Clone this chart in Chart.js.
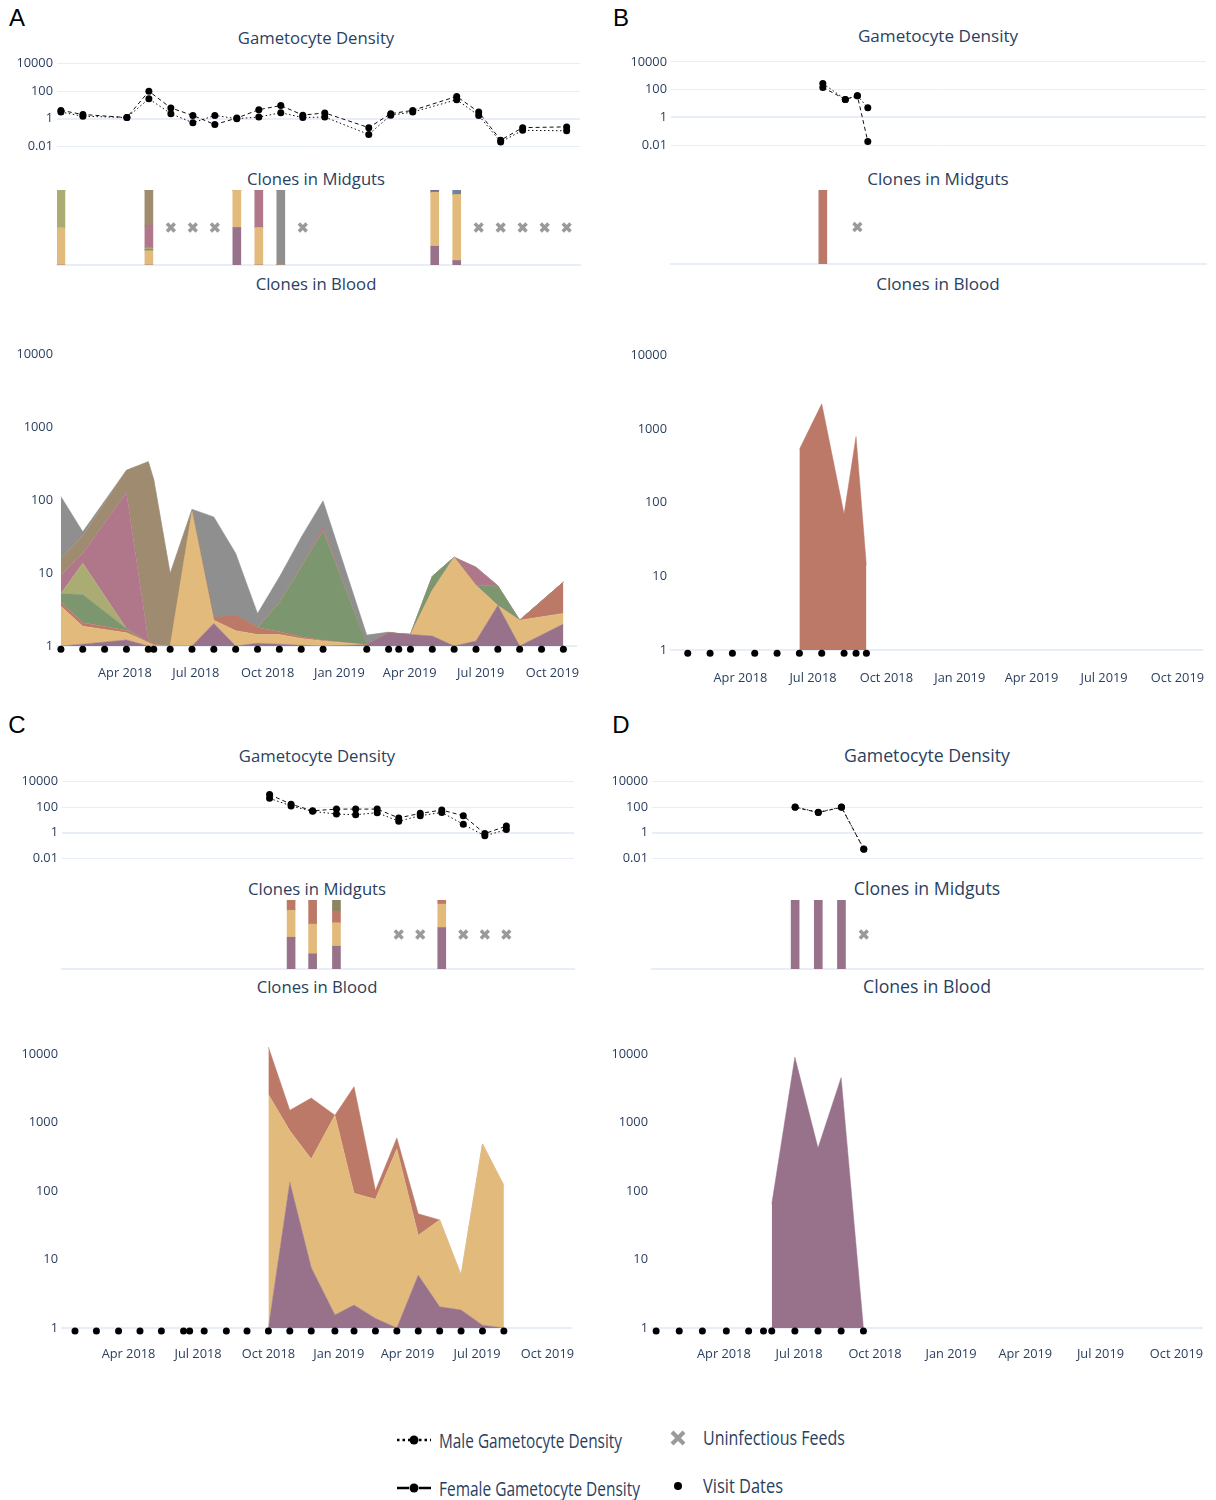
<!DOCTYPE html>
<html>
<head>
<meta charset="utf-8">
<script src="https://cdn.jsdelivr.net/npm/chart.js@4.4.0/dist/chart.umd.min.js"></script>
<style>
  body { margin: 0; width: 1216px; height: 1500px; position: relative; background: #fff; overflow: hidden; font-family: "Open Sans", sans-serif; }
  canvas { position: absolute; }
  .ttl { position: absolute; transform: translate(-50%, -50%); color: #2a3f5f; line-height: 1; white-space: nowrap; }
  .letter { position: absolute; transform: translate(-50%, -50%); font-family: "Liberation Sans", sans-serif; font-size: 24px; line-height: 1; color: #000; }
  .leg { position: absolute; transform-origin: 0 50%; font-family: "Open Sans", sans-serif; font-size: 19.5px; line-height: 1; color: #2a3f5f; white-space: nowrap; }
</style>
</head>
<body>
<svg style="position:absolute;left:380px;top:1420px" width="340" height="85">
  <line x1="17" y1="20" x2="51" y2="20" stroke="#000" stroke-width="2.5" stroke-dasharray="2.5,3"/>
  <circle cx="34" cy="20" r="4.5" fill="#000"/>
  <line x1="17" y1="68" x2="29" y2="68" stroke="#000" stroke-width="2.5"/>
  <line x1="39" y1="68" x2="51" y2="68" stroke="#000" stroke-width="2.5"/>
  <circle cx="34" cy="68" r="4.5" fill="#000"/>
  <line x1="292" y1="12" x2="304" y2="24" stroke="#9a9a9a" stroke-width="4"/>
  <line x1="304" y1="12" x2="292" y2="24" stroke="#9a9a9a" stroke-width="4"/>
  <circle cx="298" cy="66" r="4" fill="#000"/>
</svg>
<script>
// x axis: days since 1 Jan 2018
const tickDays = [90, 181, 273, 365, 455, 546, 638];
const tickNames = ['Apr 2018', 'Jul 2018', 'Oct 2018', 'Jan 2019', 'Apr 2019', 'Jul 2019', 'Oct 2019'];
const gameTicks = [0.01, 0.1, 1, 10, 100, 1000, 10000];
const gameLabels = [0.01, 1, 100, 10000];
const bloodTicks = [1, 10, 100, 1000, 10000];

// ---- panel A ----
const aVisits = [8, 36, 64, 92, 120, 127, 148, 176, 204, 232, 260, 288, 316, 344, 400, 428, 441, 456, 484, 512, 540, 568, 596, 624, 652];
const aGameDays = [8, 36, 92, 120, 148, 176, 204, 232, 260, 288, 316, 344, 400, 428, 456, 512, 540, 568, 596, 652];
const aMale = [3, 1.5, 1.2, 28, 2.3, 0.5, 1.7, 1, 1.3, 2.7, 1.2, 1.3, 0.07, 1.8, 3, 24, 1.7, 0.02, 0.14, 0.13];
const aFemale = [4, 2, 1.2, 100, 6, 1.7, 0.37, 1.1, 4.5, 9, 1.8, 2.6, 0.22, 2.3, 4, 42, 3, 0.027, 0.22, 0.25];
const aGutDays = [8, 120, 232, 260, 288, 484, 512];
const aGutPurple = [0, 0, 0.5, 0, 0, 0.25, 0.06];
const aGutYellow = [0.5, 0.19, 0.5, 0.5, 0, 0.72, 0.88];
const aGutGreen = [0, 0.02, 0, 0, 0, 0, 0];
const aGutOlive = [0.5, 0.02, 0, 0, 0, 0, 0];
const aGutPink = [0, 0.3, 0, 0.5, 0, 0, 0];
const aGutBrown = [0, 0.47, 0, 0, 0, 0, 0];
const aGutGrey = [0, 0, 0, 0, 1, 0, 0];
const aGutViolet = [0, 0, 0, 0, 0, 0.03, 0];
const aGutSlate = [0, 0, 0, 0, 0, 0, 0.06];
const aUninf = [148, 176, 204, 316, 540, 568, 596, 624, 652];
const aBloodDays = [8, 36, 92, 120, 127, 148, 176, 204, 232, 260, 288, 316, 344, 400, 428, 441, 456, 484, 512, 540, 568, 596, 652];
const aBloodPurple = [0, 1.06, 1.21, 1.0, 0, 0, 0, 2.04, 0, 1.09, 1.06, 1.02, 1.0, 1.04, 1.52, 1.48, 1.44, 1.37, 0, 1.17, 3.6, 0, 2.0];
const aBloodYellow = [3.5, 0.81, 0.31, 0.12, 1.03, 1.0, 70, 0.22, 1.62, 0.35, 0.38, 0.25, 0.17, 0, 0, 0, 0, 4.43, 16.5, 5.63, 0, 2.26, 0.8];
const aBloodRed = [0.5, 0.21, 0.13, 0, 0, 0, 0, 0.17, 1.03, 0.36, 0.13, 0.07, 0.03, 0, 0, 0, 0, 0, 0, 0, 0, 0, 4.7];
const aBloodGreen = [1.2, 3.0, 0.09, 0, 0, 0, 0, 0, 0, 0, 2.33, 10.7, 36.8, 0, 0, 0, 0, 3.2, 0, 0, 3.0, 0, 0];
const aBloodOlive = [0, 8.6, 0, 0, 0, 0, 0, 0, 0, 0, 0, 0, 0, 0, 0, 0, 0, 0, 0, 0, 0, 0, 0];
const aBloodPink = [4.1, 5.0, 125, 0.08, 0.02, 0, 0, 0, 0, 0.05, 0.1, 0.5, 5, 0, 0, 0, 0, 0, 0, 5.2, 0.1, 0, 0];
const aBloodBrown = [6.7, 13.9, 130, 335, 189, 8.8, 3, 0, 0, 0, 0, 0, 0, 0, 0, 0, 0, 0, 0, 0, 0, 0, 0];
const aBloodGrey = [96, 4.4, 0, 0, 0, 0, 2, 56.5, 16, 0.95, 4.8, 18.5, 55, 0.37, 0.03, 0, 0, 0, 0, 0, 0, 0, 0];

// ---- panel B ----
const bVisits = [24, 52, 80, 108, 136, 164, 192, 220, 235, 248];
const bGameDays = [192, 220, 235, 248];
const bMale = [275, 19.6, 36, 4.9];
const bFemale = [142, 19.6, 36, 0.018];
const bGutDays = [192];
const bGutRed = [1];
const bUninf = [235];
const bBloodDays = [164, 192, 220, 235, 248];
const bBloodRed = [530, 2200, 70, 790, 14];

// ---- panel C ----
const cVisits = [20, 48, 77, 105, 133, 162, 170, 189, 218, 245, 273, 301, 329, 360, 385, 413, 441, 469, 497, 525, 553, 581];
const cGameDays = [273, 301, 329, 360, 385, 413, 441, 469, 497, 525, 553, 581];
const cMale = [480, 123, 46, 28, 25, 36, 7.8, 21, 38, 4.4, 0.55, 1.7];
const cFemale = [960, 166, 51, 69, 69, 69, 14, 32, 58, 21, 0.83, 3.2];
const cGutDays = [301, 329, 360, 497];
const cGutPurple = [0.46, 0.22, 0.33, 0.6];
const cGutYellow = [0.39, 0.43, 0.34, 0.34];
const cGutRed = [0.15, 0.35, 0.17, 0.06];
const cGutDarkOlive = [0, 0, 0.16, 0];
const cUninf = [441, 469, 525, 553, 581];
const cBloodDays = [273, 301, 329, 360, 385, 413, 441, 469, 497, 525, 553, 581];
const cBloodPurple = [0, 135, 7.6, 1.55, 2.16, 1.38, 0, 5.9, 2.04, 1.83, 1.1, 1.0];
const cBloodYellow = [2600, 630, 287, 1288, 91, 75, 415, 16.7, 36, 4.1, 489, 120];
const cBloodRed = [10200, 755, 2000, 0, 3280, 26, 185, 24, 0, 0, 0, 0];

// ---- panel D ----
const dVisits = [8, 36, 64, 93, 120, 138, 148, 176, 204, 232, 259];
const dGameDays = [176, 204, 232, 259];
const dMale = [100, 39, 100, 0.052];
const dFemale = [95, 37, 95, 0.05];
const dGutDays = [176, 204, 232];
const dGutPurple = [1, 1, 1];
const dUninf = [259];
const dBloodDays = [148, 176, 204, 232, 259];
const dBloodPurple = [65, 9100, 427, 4570, 0];

const COLORS = {
  purple: '#98728a', yellow: '#e2bb7c', red: '#bd7968', green: '#7c976f',
  olive: '#abac73', pink: '#b0778b', brown: '#9e8b70', grey: '#8f8f8f',
  slate: '#6c84a2', violet: '#7c6a8c', darkOlive: '#8a8660'
};
const TXT = '#2a3f5f';
const GRID = '#e8eef7';
const FONT = '"Open Sans", sans-serif';
const TICK_SIZE = 12.8;
const X_MIN = 3, X_MAX = 669;

const LAYOUT = {
  A: { left: 57, right: 580, g10k: 63, g001: 146, mTop: 190, mBot: 265, b10k: 353, b1: 646, pad: 20, cx: 316, tG: 38, tM: 179, tB: 284, fs: 16.7 },
  B: { left: 671, right: 1206, g10k: 61, g001: 145, mTop: 190, mBot: 264, b10k: 354, b1: 650, pad: 21, cx: 938, tG: 36, tM: 179, tB: 284, fs: 17.1 },
  C: { left: 62, right: 574, g10k: 780, g001: 858, mTop: 900, mBot: 969, b10k: 1053, b1: 1328, pad: 19, cx: 317, tG: 756, tM: 889, tB: 987, fs: 16.7 },
  D: { left: 652, right: 1203, g10k: 780, g001: 858, mTop: 900, mBot: 969, b10k: 1053, b1: 1328, pad: 19, cx: 927, tG: 756, tM: 889, tB: 987, fs: 17.7 }
};

function addText(txt, x, y, cls, size) {
  const d = document.createElement('div');
  d.className = cls;
  d.textContent = txt;
  d.style.left = x + 'px';
  d.style.top = y + 'px';
  if (size) d.style.fontSize = size + 'px';
  document.body.appendChild(d);
  return d;
}

// legend text is condensed in the reference: squeeze each label to its measured width
function addLegendText(txt, x, cy, width) {
  const d = addText(txt, x, 0, 'leg');
  const r = d.getBoundingClientRect();
  d.style.top = (cy - r.height / 2) + 'px';
  d.style.transform = 'scaleX(' + (width / r.width) + ')';
}

function baseOptions(scales) {
  return {
    responsive: false, animation: false, devicePixelRatio: 1,
    plugins: { legend: { display: false }, tooltip: { enabled: false } },
    scales: scales
  };
}

// canvas placed so the chart area lands exactly on [p.left, p.right] x [top, bottom]
function mount(p, top, bottom, xh, cfg) {
  const ct = Math.floor(top - 10);
  const h = Math.ceil(bottom + xh + 4) - ct;
  const c = document.createElement('canvas');
  c.width = p.right - p.left + 80;
  c.height = h;
  c.style.left = (p.left - 60) + 'px';
  c.style.top = ct + 'px';
  document.body.appendChild(c);
  cfg.options.layout = { padding: { left: 0, right: 20, top: top - ct, bottom: h - (bottom - ct) - xh } };
  cfg.options.scales.x.afterFit = s => { s.height = xh; };
  cfg.options.scales.y.afterFit = s => { s.width = 60; };
  return new Chart(c, cfg);
}

function xScale(showTicks, pad, border) {
  return {
    type: 'linear', min: X_MIN, max: X_MAX, offset: false,
    grid: { display: false, drawTicks: false },
    border: { display: border, color: GRID, width: 2 },
    afterBuildTicks: s => { s.ticks = tickDays.map(v => ({ value: v })); },
    ticks: {
      display: showTicks, padding: pad, autoSkip: false, maxRotation: 0, minRotation: 0,
      color: TXT, font: { family: FONT, size: TICK_SIZE },
      callback: v => tickNames[tickDays.indexOf(v)]
    }
  };
}

function gametoChart(p, days, male, female) {
  const ppd = (p.g001 - p.g10k) / 6;
  const top = p.g10k - Math.log10(2) * ppd;
  const bottom = p.g001 + Math.log10(2) * ppd;
  const line = (vals, dash) => ({
    data: days.map((d, i) => ({ x: d, y: vals[i] })),
    borderColor: '#111', borderWidth: 1, borderDash: dash,
    pointRadius: 3.5, pointBackgroundColor: '#000', pointBorderWidth: 0,
    tension: 0, clip: false, fill: false
  });
  return mount(p, top, bottom, 10, {
    type: 'line',
    data: { datasets: [line(male, [1.5, 2.5]), line(female, [4, 3])] },
    options: baseOptions({
      x: xScale(false, 0, false),
      y: {
        type: 'logarithmic', min: 0.005, max: 20000,
        afterBuildTicks: s => { s.ticks = gameTicks.map(v => ({ value: v })); },
        grid: { color: GRID, drawTicks: false, lineWidth: c => (c.tick && c.tick.value === 1 ? 2 : 1) },
        border: { display: false },
        ticks: {
          padding: 4, color: TXT, font: { family: FONT, size: TICK_SIZE },
          callback: v => (gameLabels.includes(v) ? String(v) : '')
        }
      }
    })
  });
}

function gutChart(p, days, series, uninf) {
  const datasets = series.map(([name, vals]) => ({
    type: 'bar',
    data: days.map((d, i) => ({ x: d, y: vals[i] })),
    backgroundColor: COLORS[name], borderWidth: 0, barThickness: 8, stack: 'gut'
  }));
  datasets.push({
    type: 'line',
    data: uninf.map(d => ({ x: d, y: 0.5 })),
    showLine: false, pointStyle: 'crossRot', pointRadius: 5.5,
    pointBorderWidth: 3.5, pointBorderColor: '#9a9a9a', stack: 'uninf', clip: false
  });
  const xs = xScale(false, 0, true);
  xs.stacked = true;
  return mount(p, p.mTop, p.mBot, 10, {
    type: 'bar',
    data: { datasets },
    options: baseOptions({
      x: xs,
      y: { min: 0, max: 1, stacked: true, grid: { display: false }, border: { display: false }, ticks: { display: false } }
    })
  });
}

// running totals of the clone densities; a log axis cannot show 0, so totals sit on the axis floor (1)
function stackUp(series) {
  const run = series[0][1].map(() => 0);
  return series.map(([name, vals]) => [name, vals.map((v, j) => Math.max((run[j] += v), 1))]);
}

function bloodChart(p, visits, days, series) {
  const ppd = (p.b1 - p.b10k) / 4;
  const top = p.b10k - 0.2 * ppd;
  const datasets = [{
    data: visits.map(d => ({ x: d, y: 0.905 })),
    showLine: false, pointRadius: 3.5, pointBackgroundColor: '#000', pointBorderWidth: 0,
    clip: false, fill: false
  }];
  stackUp(series).forEach(([name, tops], i) => {
    datasets.push({
      data: days.map((d, j) => ({ x: d, y: tops[j] })),
      borderColor: COLORS[name], backgroundColor: COLORS[name], borderWidth: 0.5,
      pointRadius: 0, tension: 0, fill: i === 0 ? 'start' : '-1'
    });
  });
  return mount(p, top, p.b1, 40, {
    type: 'line',
    data: { datasets },
    options: baseOptions({
      x: xScale(true, p.pad, true),
      y: {
        type: 'logarithmic', min: 1, max: Math.pow(10, 4.2),
        afterBuildTicks: s => { s.ticks = bloodTicks.map(v => ({ value: v })); },
        grid: { display: false, drawTicks: false },
        border: { display: false },
        ticks: { padding: 4, color: TXT, font: { family: FONT, size: TICK_SIZE }, callback: v => String(v) }
      }
    })
  });
}

function titles(p) {
  addText('Gametocyte Density', p.cx, p.tG, 'ttl', p.fs);
  addText('Clones in Midguts', p.cx, p.tM, 'ttl', p.fs);
  addText('Clones in Blood', p.cx, p.tB, 'ttl', p.fs);
}

// panel A
titles(LAYOUT.A);
gametoChart(LAYOUT.A, aGameDays, aMale, aFemale);
gutChart(LAYOUT.A, aGutDays, [
  ['purple', aGutPurple], ['yellow', aGutYellow], ['green', aGutGreen], ['olive', aGutOlive],
  ['pink', aGutPink], ['brown', aGutBrown], ['grey', aGutGrey], ['violet', aGutViolet], ['slate', aGutSlate]
], aUninf);
bloodChart(LAYOUT.A, aVisits, aBloodDays, [
  ['purple', aBloodPurple], ['yellow', aBloodYellow], ['red', aBloodRed], ['green', aBloodGreen],
  ['olive', aBloodOlive], ['pink', aBloodPink], ['brown', aBloodBrown], ['grey', aBloodGrey]
]);

// panel B
titles(LAYOUT.B);
gametoChart(LAYOUT.B, bGameDays, bMale, bFemale);
gutChart(LAYOUT.B, bGutDays, [['red', bGutRed]], bUninf);
bloodChart(LAYOUT.B, bVisits, bBloodDays, [['red', bBloodRed]]);

// panel C
titles(LAYOUT.C);
gametoChart(LAYOUT.C, cGameDays, cMale, cFemale);
gutChart(LAYOUT.C, cGutDays, [
  ['purple', cGutPurple], ['yellow', cGutYellow], ['red', cGutRed], ['darkOlive', cGutDarkOlive]
], cUninf);
bloodChart(LAYOUT.C, cVisits, cBloodDays, [
  ['purple', cBloodPurple], ['yellow', cBloodYellow], ['red', cBloodRed]
]);

// panel D
titles(LAYOUT.D);
gametoChart(LAYOUT.D, dGameDays, dMale, dFemale);
gutChart(LAYOUT.D, dGutDays, [['purple', dGutPurple]], dUninf);
bloodChart(LAYOUT.D, dVisits, dBloodDays, [['purple', dBloodPurple]]);

// panel letters and legend
addText('A', 17, 18, 'letter');
addText('B', 621, 18, 'letter');
addText('C', 17, 725, 'letter');
addText('D', 621, 725, 'letter');
addLegendText('Male Gametocyte Density', 439, 1441, 183);
addLegendText('Female Gametocyte Density', 439, 1489, 201);
addLegendText('Uninfectious Feeds', 703, 1438, 142);
addLegendText('Visit Dates', 703, 1486, 80);
</script>
</body>
</html>
